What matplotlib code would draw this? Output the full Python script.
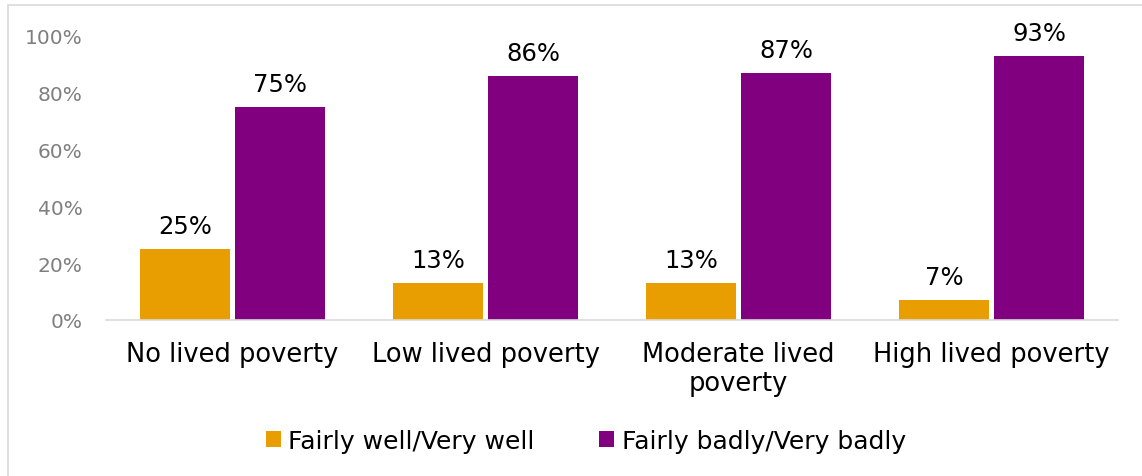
import numpy as np
import matplotlib.pyplot as plt
from matplotlib.patches import Rectangle

categories = ['No lived poverty', 'Low lived poverty', 'Moderate lived\npoverty', 'High lived poverty']
well = [25, 13, 13, 7]
badly = [75, 86, 87, 93]
series_names = ['Fairly well/Very well', 'Fairly badly/Very badly']
colors = ['#E89E00', '#800080']

plt.rcParams['font.family'] = ['DejaVu Sans']

fig = plt.figure(figsize=(11.42, 4.77), dpi=100)
ax = fig.add_axes([106/1142, 1 - 321/477, 1012/1142, 284/477])

x = np.arange(len(categories))
w = 0.356
off = 0.188
b1 = ax.bar(x - off, well, w, color=colors[0], label=series_names[0])
b2 = ax.bar(x + off, badly, w, color=colors[1], label=series_names[1])

for bars, vals in [(b1, well), (b2, badly)]:
    for r, v in zip(bars, vals):
        ax.annotate(f'{v}%', (r.get_x() + r.get_width()/2, v), xytext=(0, 8),
                    textcoords='offset points', ha='center', va='bottom',
                    fontsize=17.5, color='black')

ax.set_xlim(-0.5, 3.5)
ax.set_ylim(0, 100)
ax.set_yticks(range(0, 101, 20))
ax.set_yticklabels([f'{t}%' for t in range(0, 101, 20)])
ax.tick_params(axis='y', length=0, pad=17, labelsize=14.5, labelcolor='#7F7F7F')
ax.set_xticks(x)
ax.set_xticklabels(categories, linespacing=1.15)
ax.tick_params(axis='x', length=0, pad=15, labelsize=18.5, labelcolor='black')
for s in ['top', 'right', 'left']:
    ax.spines[s].set_visible(False)
ax.spines['bottom'].set_color('#D9D9D9')
ax.spines['bottom'].set_linewidth(1.2)

fig.legend(handles=[b1, b2], loc='center', bbox_to_anchor=(0.513, 1 - 442/477),
           ncol=2, frameon=False, fontsize=18, handlelength=0.6, handleheight=0.6,
           handletextpad=0.3, columnspacing=2.6)

fig.add_artist(Rectangle((8/1142, -0.1), 1.2, 0.1 + (477 - 6)/477, transform=fig.transFigure,
                         fill=False, edgecolor='#D9D9D9', linewidth=1.2))

fig.savefig('out.png', dpi=100)
